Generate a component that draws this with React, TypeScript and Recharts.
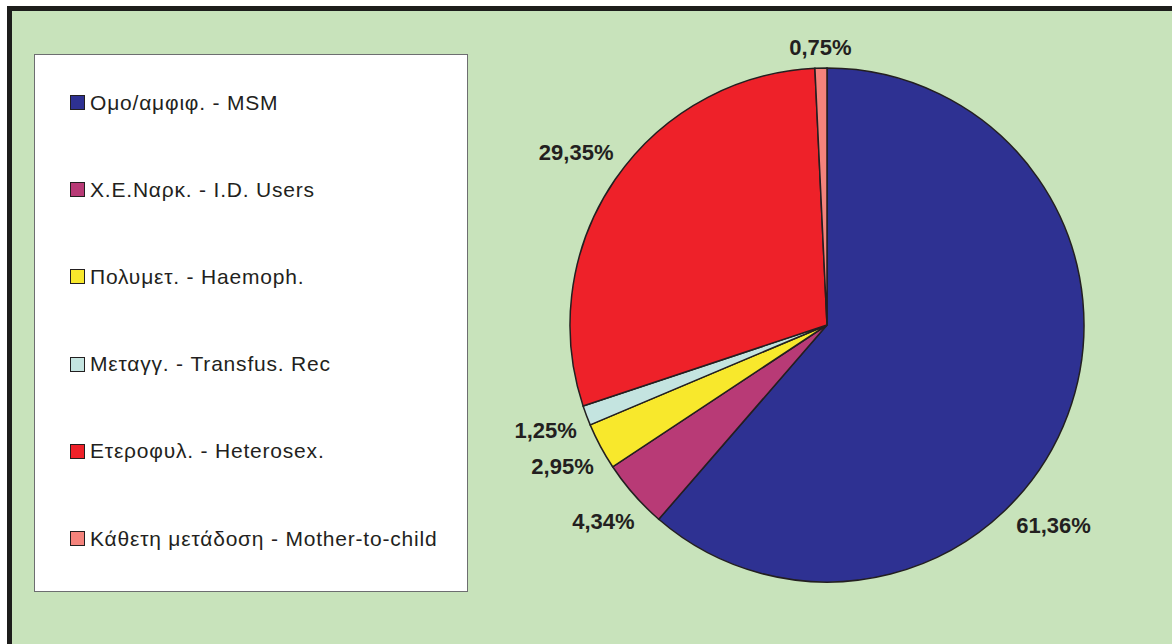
import { Legend, Pie, PieChart, Cell } from "recharts";

const categories = [
  "Ομο/αμφιφ. - MSM",
  "Χ.Ε.Ναρκ. - I.D. Users",
  "Πολυμετ. - Haemoph.",
  "Μεταγγ. - Transfus. Rec",
  "Ετεροφυλ. - Heterosex.",
  "Κάθετη μετάδοση - Mother-to-child",
];
const shares = [61.36, 4.34, 2.95, 1.25, 29.35, 0.75];
const valueLabels = ["61,36%", "4,34%", "2,95%", "1,25%", "29,35%", "0,75%"];
const colors = ["#2e3192", "#b83a76", "#f8e82c", "#c4e4e0", "#ee2129", "#f4837c"];

const data = categories.map((name, i) => ({ name, value: shares[i], label: valueLabels[i] }));

const RAD = Math.PI / 180;
// the big slice's label sits lower than its mid angle in the original
const angleNudge: Record<number, number> = { 0: -21 };

function renderLabel(props: any) {
  const { cx, cy, midAngle, outerRadius, index } = props;
  const text = valueLabels[index];
  const a = (midAngle + (angleNudge[index] ?? 0)) * RAD;
  const ux = Math.cos(-a);
  const uy = Math.sin(-a);
  const halfW = (text.length * 12.6) / 2;
  const halfH = 9;
  const r = outerRadius + 11 + Math.abs(ux) * halfW + Math.abs(uy) * halfH;
  return (
    <text
      x={cx + r * ux}
      y={cy + r * uy}
      textAnchor="middle"
      dominantBaseline="central"
      fill="#231f20"
      fontSize={22}
      fontWeight="bold"
      fontFamily="'Liberation Sans', Arial, sans-serif"
    >
      {text}
    </text>
  );
}

function LegendBox() {
  return (
    <div
      style={{
        boxSizing: "border-box",
        width: 434,
        height: 538,
        background: "#fff",
        border: "1.5px solid #6d6e70",
        paddingTop: 4,
        fontFamily: "'Liberation Sans', Arial, sans-serif",
        fontSize: 21,
        letterSpacing: 0.8,
        color: "#231f20",
      }}
    >
      {data.map((d, i) => (
        <div key={d.name} style={{ height: 87.2, display: "flex", alignItems: "center", paddingLeft: 35 }}>
          <span
            style={{
              display: "inline-block",
              width: 13,
              height: 13,
              background: colors[i],
              border: "1.5px solid #231f20",
              marginRight: 5,
            }}
          />
          <span>{d.name}</span>
        </div>
      ))}
    </div>
  );
}

export default function App() {
  return (
    <div
      style={{
        position: "absolute",
        left: 7,
        top: 6,
        width: 1165,
        height: 638,
        boxSizing: "border-box",
        borderLeft: "5px solid #1d1d1b",
        borderTop: "5px solid #1d1d1b",
        background: "#c8e3bb",
        overflow: "hidden",
      }}
    >
      <div style={{ position: "absolute", left: -12, top: -11 }}>
        <PieChart width={1172} height={644}>
          <Pie
            data={data}
            dataKey="value"
            nameKey="name"
            cx={822}
            cy={320}
            outerRadius={257}
            startAngle={90}
            endAngle={-270}
            stroke="#231f20"
            strokeWidth={1.5}
            label={renderLabel}
            labelLine={false}
            isAnimationActive={false}
          >
            {data.map((d, i) => (
              <Cell key={d.name} fill={colors[i]} />
            ))}
          </Pie>
          <Legend
            layout="vertical"
            content={() => <LegendBox />}
            wrapperStyle={{ left: 34, top: 54, width: 434, height: 538 }}
          />
        </PieChart>
      </div>
    </div>
  );
}
